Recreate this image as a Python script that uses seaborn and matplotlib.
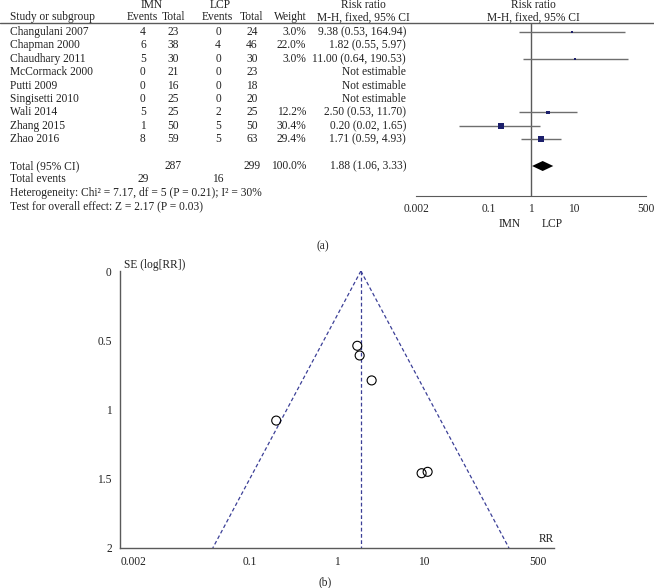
import matplotlib.pyplot as plt
import numpy as np
import pandas as pd
import seaborn as sns
from matplotlib.lines import Line2D
from matplotlib.ticker import NullLocator
from matplotlib.transforms import blended_transform_factory

# --- data -----------------------------------------------------------------
studies = ["Changulani 2007", "Chapman 2000", "Chaudhary 2011", "McCormack 2000",
           "Putti 2009", "Singisetti 2010", "Wali 2014", "Zhang 2015", "Zhao 2016"]
imn_events = [4, 6, 5, 0, 0, 0, 5, 1, 8]
imn_total = [23, 38, 30, 21, 16, 25, 25, 50, 59]
lcp_events = [0, 4, 0, 0, 0, 0, 2, 5, 5]
lcp_total = [24, 46, 30, 23, 18, 20, 25, 50, 63]
weight = [3.0, 22.0, 3.0, np.nan, np.nan, np.nan, 12.2, 30.4, 29.4]
rr = [9.38, 1.82, 11.00, np.nan, np.nan, np.nan, 2.50, 0.20, 1.71]
rr_lo = [0.53, 0.55, 0.64, np.nan, np.nan, np.nan, 0.53, 0.02, 0.59]
rr_hi = [164.94, 5.97, 190.53, np.nan, np.nan, np.nan, 11.70, 1.65, 4.93]
# the Chapman row has no marker in the original figure
shown = [True, False, True, True, True, True, True, True, True]

total_imn, total_lcp = 287, 299
events_imn, events_lcp = 29, 16
pooled_rr, pooled_lo, pooled_hi = 1.88, 1.06, 3.33
heterogeneity = "Heterogeneity: Chi² = 7.17, df = 5 (P = 0.21); I² = 30%"
overall = "Test for overall effect: Z = 2.17 (P = 0.03)"

forest_ticks = [0.002, 0.1, 1, 10, 500]
forest_ticklabels = ["0.002", "0.1", "1", "10", "500"]

funnel_rr = [9.38, 1.82, 11.00, 2.50, 0.20, 1.71]
funnel_se = [1.46, 0.61, 1.45, 0.79, 1.08, 0.54]
funnel_ticks = [0.0046, 0.1, 1, 10, 205]
funnel_ticklabels = ["0.002", "0.1", "1", "10", "500"]

# --- style ----------------------------------------------------------------
sns.set_style("white")
plt.rcParams["font.family"] = ["Liberation Serif", "DejaVu Serif"]
FS = 8.3
NAVY = "#1c1f6b"
GREY = "#5a5a5a"
FUNNEL = "#3b3f97"

W, H = 654, 588


def fx(px):
    return px / W


def fy(py):
    return 1 - py / H


fig = plt.figure(figsize=(W / 100, H / 100), dpi=100)

# --- (a) forest plot ------------------------------------------------------
row_px0, row_step = 32, 13.4
top_px, axis_px = 23, 196
ax = fig.add_axes([fx(416), fy(axis_px), fx(646) - fx(416), (axis_px - top_px) / H])
ax.set_ylim((axis_px - row_px0) / row_step, (top_px - row_px0) / row_step)

forest = pd.DataFrame({
    "study": studies, "imn_e": imn_events, "imn_n": imn_total,
    "lcp_e": lcp_events, "lcp_n": lcp_total, "weight": weight,
    "rr": rr, "lo": rr_lo, "hi": rr_hi, "shown": shown,
})
forest["row"] = np.arange(len(forest))
drawn = forest[forest["rr"].notna() & forest["shown"]]

ax.hlines(drawn["row"], drawn["lo"], drawn["hi"], color="#6e6e6e", lw=1.0, zorder=2)
sns.scatterplot(data=drawn, x="rr", y="row", size="weight", sizes=(1.8, 17.5),
                size_norm=(3.0, 30.4), marker="s", color=NAVY, linewidth=0,
                legend=False, ax=ax, zorder=3)
total_row = 10
dh = 5 / row_step
ax.fill([pooled_lo, pooled_rr, pooled_hi, pooled_rr],
        [total_row, total_row - dh, total_row, total_row + dh], color="black", lw=0, zorder=3)
ax.axvline(1, color=GREY, lw=1.0, zorder=1)

ax.set_xscale("log")
ax.set_xlim(0.002, 500)
ax.set_xticks(forest_ticks)
ax.set_xticklabels(forest_ticklabels, fontsize=FS)
ax.xaxis.set_minor_locator(NullLocator())
ax.set_yticks([])
ax.set_xlabel("")
ax.set_ylabel("")
for side in ["top", "left", "right"]:
    ax.spines[side].set_visible(False)
ax.spines["bottom"].set_color(GREY)
ax.tick_params(axis="x", direction="inout", length=6, width=1, color=GREY, pad=2)

fig.add_artist(Line2D([0, 1], [fy(top_px)] * 2, transform=fig.transFigure, color=GREY, lw=1.0))

tr = blended_transform_factory(fig.transFigure, ax.transData)


def put(px, row, s, ha="center"):
    ax.text(fx(px), row, s, transform=tr, ha=ha, va="center", fontsize=FS, color="#222222")


# headers
put(152, -2.0, "IMN")
put(220, -2.0, "LCP")
put(363, -2.0, "Risk ratio")
put(533, -2.0, "Risk ratio")
put(10, -1.1, "Study or subgroup", ha="left")
put(142, -1.1, "Events")
put(174, -1.1, "Total")
put(217, -1.1, "Events")
put(251, -1.1, "Total")
put(290, -1.1, "Weight")
put(363, -1.1, "M-H, fixed, 95% CI")
put(533, -1.1, "M-H, fixed, 95% CI")

for _, r in forest.iterrows():
    put(10, r["row"], r["study"], ha="left")
    put(143, r["row"], str(r["imn_e"]))
    put(173, r["row"], str(r["imn_n"]))
    put(218, r["row"], str(r["lcp_e"]))
    put(252, r["row"], str(r["lcp_n"]))
    if np.isnan(r["rr"]):
        put(406, r["row"], "Not estimable", ha="right")
    else:
        put(306, r["row"], f"{r['weight']:.1f}%", ha="right")
        put(406, r["row"], f"{r['rr']:.2f} ({r['lo']:.2f}, {r['hi']:.2f})", ha="right")

put(10, total_row, "Total (95% CI)", ha="left")
put(173, total_row, str(total_imn))
put(252, total_row, str(total_lcp))
put(306, total_row, "100.0%", ha="right")
put(406, total_row, f"{pooled_rr:.2f} ({pooled_lo:.2f}, {pooled_hi:.2f})", ha="right")
put(10, 11, "Total events", ha="left")
put(143, 11, str(events_imn))
put(218, 11, str(events_lcp))
put(10, 12, heterogeneity, ha="left")
put(10, 13, overall, ha="left")

fig.text(fx(510), fy(224), "IMN", ha="center", va="center", fontsize=FS, color="#222222")
fig.text(fx(552), fy(224), "LCP", ha="center", va="center", fontsize=FS, color="#222222")
fig.text(fx(323), fy(246), "(a)", ha="center", va="center", fontsize=FS, color="#222222")

# --- (b) funnel plot ------------------------------------------------------
bx = fig.add_axes([fx(120), fy(548), fx(554) - fx(120), (548 - 271) / H])
funnel = pd.DataFrame({"rr": funnel_rr, "se": funnel_se})
se_edge = np.array([0.0, 2.0])
bx.plot(pooled_rr * np.exp(-1.96 * se_edge), se_edge, color=FUNNEL, lw=0.9, ls=(0, (3, 2)))
bx.plot(pooled_rr * np.exp(1.96 * se_edge), se_edge, color=FUNNEL, lw=0.9, ls=(0, (3, 2)))
bx.plot([pooled_rr, pooled_rr], se_edge, color=FUNNEL, lw=0.9, ls=(0, (3, 2)))
sns.scatterplot(data=funnel, x="rr", y="se", marker="o", s=42, facecolor="none",
                edgecolor="black", linewidth=0.8, ax=bx, zorder=3)

bx.set_xscale("log")
bx.set_xlim(0.0032, 312)
bx.set_ylim(2, 0)
bx.set_xticks(funnel_ticks)
bx.set_xticklabels(funnel_ticklabels, fontsize=FS)
bx.xaxis.set_minor_locator(NullLocator())
bx.set_yticks([0, 0.5, 1, 1.5, 2])
bx.set_yticklabels(["0", "0.5", "1", "1.5", "2"], fontsize=FS)
bx.set_xlabel("")
bx.set_ylabel("")
for side in ["top", "right"]:
    bx.spines[side].set_visible(False)
for side in ["left", "bottom"]:
    bx.spines[side].set_color(GREY)
    bx.spines[side].set_linewidth(1.0)
bx.tick_params(direction="out", length=4, width=1, color=GREY, pad=2, labelcolor="#222222")
bx.text(0.01, 1.0, "SE (log[RR])", transform=bx.transAxes, ha="left", va="bottom",
        fontsize=FS, color="#222222")
bx.text(1.0, 0.012, "RR", transform=bx.transAxes, ha="right", va="bottom",
        fontsize=FS, color="#222222")
fig.text(fx(325), fy(582), "(b)", ha="center", va="center", fontsize=FS, color="#222222")

fig.savefig("out.png", dpi=100)
